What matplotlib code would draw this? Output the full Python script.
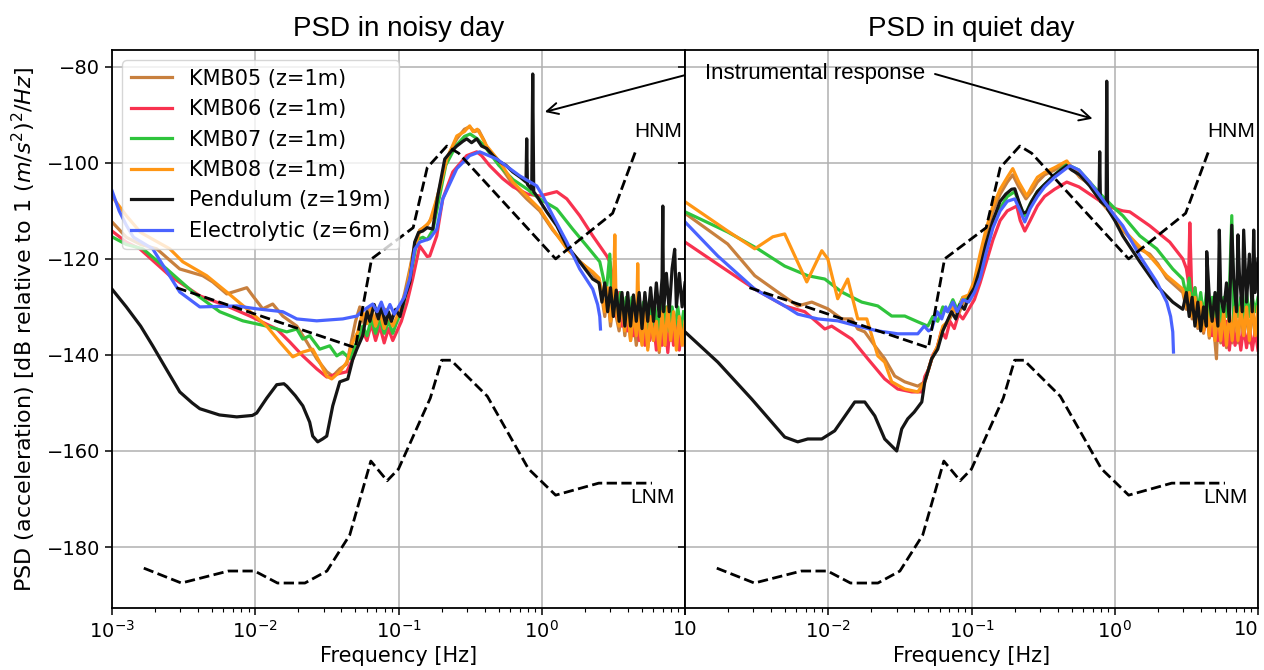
import numpy as np
import matplotlib
matplotlib.use('Agg')
import matplotlib.pyplot as plt

plt.rcParams['font.family'] = ['DejaVu Sans']
plt.rcParams['font.size'] = 14
plt.rcParams['mathtext.fontset'] = 'dejavusans'

# ---- data: (log10 frequency [Hz], PSD [dB]) ----
# noisy day
noisy_kmb05 = [(-3.0, -112.3), (-2.9, -115.5), (-2.8, -117), (-2.688, -117.9), (-2.527, -122.1), (-2.367, -123.5),
               (-2.297, -124.8), (-2.199, -127.3), (-2.059, -126), (-2.017, -127.7), (-1.948, -130.4), (-1.878, -129.4),
               (-1.808, -131.9), (-1.71, -134), (-1.64, -137.3), (-1.571, -140.8), (-1.501, -143.5), (-1.459, -144.4),
               (-1.41, -142.9), (-1.361, -141.9), (-1.34, -138.8), (-1.3, -133), (-1.27, -130), (-1.24, -133.5),
               (-1.21, -130.5), (-1.18, -134), (-1.15, -131), (-1.12, -133.5), (-1.09, -130.5), (-1.06, -133.5),
               (-1.03, -131), (-1.0, -132), (-0.956, -127), (-0.92, -122), (-0.887, -117), (-0.852, -114),
               (-0.8, -113), (-0.76, -111), (-0.712, -105), (-0.663, -99), (-0.593, -95), (-0.54, -93),
               (-0.503, -92.5), (-0.47, -93.5), (-0.44, -93.2), (-0.4, -95.5), (-0.384, -96.8), (-0.293, -100.5),
               (-0.202, -104.5), (-0.105, -107.5), (-0.014, -110), (0.077, -114), (0.175, -117.5), (0.265, -120.5),
               (0.356, -123), (0.4, -125), (0.42, -128), (0.44, -132), (0.46, -127), (0.48, -134), (0.5, -129),
               (0.52, -132), (0.54, -135), (0.56, -130), (0.58, -136), (0.6, -131), (0.62, -137), (0.64, -132),
               (0.66, -138), (0.68, -133), (0.7, -137), (0.72, -132), (0.74, -138.5), (0.76, -133), (0.78, -137),
               (0.8, -134), (0.82, -139.5), (0.84, -132), (0.86, -138), (0.88, -131), (0.9, -137), (0.92, -132),
               (0.94, -138), (0.96, -133), (0.98, -137), (1.0, -134)]
noisy_kmb06 = [(-3.0, -114.2), (-2.9, -116.5), (-2.806, -117.9), (-2.597, -123.5), (-2.387, -127.7), (-2.199, -129.8),
               (-2.038, -131.9), (-1.85, -134.6), (-1.759, -137.3), (-1.668, -140.2), (-1.571, -142.9), (-1.501, -144.6),
               (-1.431, -144), (-1.361, -143.5), (-1.319, -140.8), (-1.28, -137), (-1.25, -135), (-1.22, -137),
               (-1.19, -133.5), (-1.16, -137), (-1.13, -134), (-1.1, -137.5), (-1.07, -134.5), (-1.04, -137),
               (-1.01, -135), (-0.98, -133), (-0.94, -129), (-0.9, -124), (-0.852, -117.3), (-0.8, -119.5),
               (-0.782, -119.4), (-0.733, -115.2), (-0.691, -107.5), (-0.621, -101.9), (-0.524, -98.5),
               (-0.454, -97.7), (-0.42, -98.5), (-0.363, -100.6), (-0.272, -103.3), (-0.2, -105), (-0.1, -106.5),
               (-0.014, -106.9), (0.105, -106), (0.175, -107.5), (0.265, -111), (0.356, -115.2), (0.454, -119.4),
               (0.475, -120.6), (0.49, -123), (0.5, -128), (0.52, -132), (0.54, -127), (0.56, -134), (0.58, -129),
               (0.6, -135), (0.62, -130), (0.64, -136), (0.66, -131), (0.68, -137), (0.7, -132), (0.72, -138),
               (0.74, -132), (0.754, -137), (0.78, -133), (0.8, -139), (0.82, -132), (0.84, -138), (0.86, -133),
               (0.88, -139.5), (0.9, -132), (0.92, -138), (0.94, -133), (0.96, -139), (0.98, -134), (1.0, -138)]
noisy_kmb07 = [(-3.0, -115.4), (-2.9, -117), (-2.785, -117.9), (-2.618, -122.1), (-2.436, -126.9), (-2.248, -131),
               (-2.087, -132.9), (-1.92, -134), (-1.78, -135.2), (-1.71, -134.6), (-1.668, -136.7), (-1.62, -136),
               (-1.55, -138.8), (-1.48, -138.1), (-1.431, -140.2), (-1.389, -139.4), (-1.34, -140.8), (-1.291, -137.3),
               (-1.25, -134), (-1.22, -136), (-1.19, -132.5), (-1.16, -135.5), (-1.13, -132.5), (-1.1, -135.5),
               (-1.07, -133), (-1.04, -135.5), (-1.01, -133), (-0.97, -130), (-0.94, -126), (-0.9, -121),
               (-0.87, -116), (-0.83, -115.5), (-0.8, -116), (-0.76, -114), (-0.72, -108), (-0.67, -100.5),
               (-0.6, -96.5), (-0.54, -94.5), (-0.5, -94), (-0.45, -95), (-0.4, -96.5), (-0.3, -100.5),
               (-0.2, -103.5), (-0.1, -105.5), (-0.014, -107.5), (0.105, -109.6), (0.216, -113.8), (0.314, -117.3),
               (0.405, -120.6), (0.43, -124), (0.45, -127), (0.475, -119), (0.49, -129), (0.51, -126), (0.53, -131),
               (0.55, -127), (0.57, -132), (0.59, -128), (0.61, -133), (0.63, -128), (0.65, -134), (0.67, -129),
               (0.69, -134), (0.71, -129), (0.73, -135), (0.75, -129), (0.77, -134), (0.79, -130), (0.81, -135),
               (0.83, -129), (0.85, -134), (0.87, -130), (0.89, -135), (0.91, -130), (0.93, -134), (0.95, -130),
               (0.97, -135), (0.99, -131)]
noisy_kmb08 = [(-3.0, -107), (-2.9, -111), (-2.8, -114.5), (-2.597, -117.9), (-2.506, -120.6), (-2.339, -123.5),
               (-2.199, -126.9), (-2.059, -130.4), (-1.92, -134), (-1.829, -137.3), (-1.738, -140.4), (-1.668, -139.4),
               (-1.599, -138.8), (-1.55, -141.5), (-1.501, -144.4), (-1.466, -145), (-1.41, -143.5), (-1.361, -141.5),
               (-1.319, -137.3), (-1.284, -135.2), (-1.25, -131), (-1.22, -133.5), (-1.19, -130), (-1.16, -134),
               (-1.13, -131), (-1.1, -134.5), (-1.07, -131.5), (-1.04, -134), (-1.01, -132), (-0.991, -131),
               (-0.942, -126.3), (-0.901, -119.4), (-0.852, -114.2), (-0.782, -112.3), (-0.712, -105.4),
               (-0.663, -99.2), (-0.593, -94.4), (-0.54, -93.5), (-0.52, -92.8), (-0.503, -92.3), (-0.48, -93.5),
               (-0.45, -93), (-0.42, -94.5), (-0.384, -96.5), (-0.293, -99.8), (-0.202, -104), (-0.105, -106.9),
               (-0.014, -109.6), (0.077, -113.8), (0.175, -117.9), (0.265, -120.6), (0.356, -122.7), (0.4, -124),
               (0.42, -127), (0.44, -131), (0.46, -126), (0.48, -133), (0.5, -128), (0.51, -115), (0.52, -131),
               (0.54, -134), (0.56, -129), (0.58, -135), (0.6, -130), (0.62, -137), (0.64, -131), (0.66, -136),
               (0.67, -121), (0.68, -134), (0.7, -138), (0.72, -131), (0.74, -139), (0.76, -132), (0.78, -137),
               (0.8, -133), (0.82, -139), (0.84, -131), (0.86, -138), (0.88, -130), (0.9, -137), (0.92, -131),
               (0.94, -139), (0.96, -132), (0.98, -138), (1.0, -133)]
noisy_pendulum = [(-3.0, -126.3), (-2.9, -130), (-2.8, -134), (-2.716, -138.1), (-2.62, -143), (-2.527, -147.7),
                  (-2.44, -150), (-2.387, -151.2), (-2.25, -152.5), (-2.129, -152.9), (-2.02, -152.6), (-1.99, -152.1),
                  (-1.92, -149), (-1.85, -146.2), (-1.8, -146), (-1.78, -146.5), (-1.72, -148.5), (-1.668, -150.6),
                  (-1.62, -154), (-1.599, -156.9), (-1.564, -158.1), (-1.53, -157.5), (-1.501, -156.9),
                  (-1.459, -150.6), (-1.41, -145.6), (-1.354, -145), (-1.32, -141), (-1.291, -138.8), (-1.25, -136),
                  (-1.22, -131), (-1.2, -133), (-1.17, -129.5), (-1.14, -132.5), (-1.12, -130), (-1.09, -133.5),
                  (-1.07, -131), (-1.05, -133), (-1.02, -130.5), (-0.99, -132), (-0.956, -128), (-0.921, -124.8),
                  (-0.887, -116.5), (-0.86, -114.5), (-0.831, -114.2), (-0.8, -113.5), (-0.761, -113.8),
                  (-0.726, -106.9), (-0.677, -99.2), (-0.63, -97.5), (-0.593, -96.5), (-0.55, -95.5), (-0.524, -95),
                  (-0.49, -95.8), (-0.454, -95), (-0.42, -96.5), (-0.384, -97), (-0.34, -98.5), (-0.293, -99.8),
                  (-0.25, -100.5), (-0.202, -101.9), (-0.15, -103), (-0.11, -104), (-0.105, -95), (-0.1, -104.5),
                  (-0.07, -105.5), (-0.063, -81.5), (-0.056, -106), (-0.035, -106.9), (0.035, -110.2),
                  (0.105, -113.1), (0.175, -117.3), (0.265, -120.6), (0.356, -124.2), (0.4, -125), (0.42, -129),
                  (0.44, -125), (0.46, -131), (0.48, -126), (0.5, -132), (0.52, -126.5), (0.54, -133), (0.56, -127),
                  (0.58, -134), (0.6, -127), (0.62, -134), (0.64, -127.5), (0.66, -133), (0.68, -127), (0.7, -134.5),
                  (0.72, -127), (0.74, -133), (0.76, -126), (0.78, -133), (0.8, -125), (0.82, -132), (0.84, -124),
                  (0.845, -109), (0.85, -131), (0.87, -123), (0.89, -131), (0.91, -122), (0.928, -118),
                  (0.94, -130), (0.96, -123), (0.98, -130), (1.0, -125)]
noisy_electrolytic = [(-3.0, -105.8), (-2.95, -110), (-2.9, -113), (-2.85, -115.5), (-2.716, -117.9),
                      (-2.527, -126.9), (-2.387, -130), (-2.129, -129.8), (-1.99, -130.4), (-1.808, -131),
                      (-1.71, -132.5), (-1.571, -132.9), (-1.389, -132.5), (-1.291, -131.9), (-1.25, -130.8),
                      (-1.18, -129.4), (-1.15, -131), (-1.12, -129), (-1.09, -131.5), (-1.06, -129.5), (-1.03, -131.5),
                      (-1.0, -130), (-0.96, -128), (-0.92, -124), (-0.887, -118), (-0.852, -116.5), (-0.782, -115.8),
                      (-0.733, -113.8), (-0.691, -107.5), (-0.593, -101.2), (-0.503, -98.5), (-0.433, -97.7),
                      (-0.314, -99.2), (-0.154, -102.7), (-0.035, -104.8), (0.007, -106.9), (0.077, -111),
                      (0.175, -116.5), (0.265, -122.1), (0.356, -126.3), (0.39, -129.5), (0.405, -132),
                      (0.41, -134.6)]

# quiet day
quiet_kmb05 = [(-3.0, -110.5), (-2.702, -116.9), (-2.513, -123.5), (-2.353, -126.9), (-2.213, -129.8), (-2.115, -129),
               (-2.003, -130.4), (-1.906, -132.5), (-1.836, -132.5), (-1.794, -134.6), (-1.745, -135.2), (-1.675, -138.1),
               (-1.606, -140.8), (-1.536, -144.4), (-1.466, -145.6), (-1.375, -146.5), (-1.326, -145.6), (-1.28, -141),
               (-1.24, -138.5), (-1.2, -134.5), (-1.16, -133), (-1.12, -130.5), (-1.09, -131.5), (-1.05, -128.5),
               (-1.02, -128), (-0.98, -125), (-0.94, -120), (-0.9, -115), (-0.85, -110), (-0.8, -106.5),
               (-0.75, -104), (-0.712, -102.5), (-0.67, -105), (-0.62, -107.5), (-0.58, -106), (-0.54, -104),
               (-0.49, -102.5), (-0.42, -101.5), (-0.335, -100), (-0.3, -101), (-0.244, -103), (-0.175, -104.5),
               (-0.1, -108), (0.0, -111.5), (0.056, -114), (0.175, -118), (0.244, -119), (0.3, -121), (0.363, -124),
               (0.475, -127), (0.5, -130.5), (0.52, -127.5), (0.54, -132.5), (0.56, -128.5), (0.58, -134.5),
               (0.6, -129.5), (0.62, -135.5), (0.64, -130.5), (0.66, -136.5), (0.68, -130.5), (0.71, -140.8),
               (0.72, -131.5), (0.74, -137.5), (0.76, -131.5), (0.78, -138.5), (0.8, -131.5), (0.82, -137.5),
               (0.84, -130.5), (0.86, -137.5), (0.88, -130.5), (0.9, -136.5), (0.92, -130.5), (0.94, -137.5),
               (0.96, -129.5), (0.98, -136.5), (1.0, -130.5)]
quiet_kmb06 = [(-3.0, -116.5), (-2.723, -122.1), (-2.513, -126.3), (-2.304, -129.8), (-2.164, -131), (-2.024, -134.6),
               (-1.976, -134), (-1.836, -136.7), (-1.724, -140.8), (-1.606, -145), (-1.515, -147.1), (-1.417, -147.7),
               (-1.347, -147.7), (-1.326, -144.5), (-1.3, -143), (-1.27, -140), (-1.24, -138.5), (-1.21, -135),
               (-1.18, -136.5), (-1.15, -133), (-1.12, -134.5), (-1.09, -131.5), (-1.06, -132.5), (-1.02, -130.5),
               (-0.98, -128.5), (-0.94, -125), (-0.9, -121), (-0.85, -116), (-0.8, -112), (-0.75, -110),
               (-0.684, -109), (-0.66, -112), (-0.628, -114.2), (-0.59, -112), (-0.54, -109), (-0.49, -107),
               (-0.42, -105.5), (-0.335, -104), (-0.25, -105), (-0.175, -106.5), (-0.1, -108), (-0.05, -109),
               (0.0, -109.5), (0.056, -110), (0.105, -110.2), (0.244, -113.1), (0.384, -116.5), (0.475, -120),
               (0.5, -122), (0.515, -125), (0.524, -112.5), (0.54, -130), (0.56, -126), (0.58, -133), (0.6, -128),
               (0.62, -135), (0.64, -133), (0.66, -129), (0.68, -136), (0.7, -131), (0.72, -137), (0.74, -132),
               (0.76, -138), (0.78, -133), (0.8, -139), (0.82, -133), (0.84, -138), (0.86, -134), (0.88, -139),
               (0.9, -134), (0.92, -138.5), (0.94, -134), (0.96, -139), (0.98, -135), (1.0, -139)]
quiet_kmb07 = [(-3.0, -110.2), (-2.702, -114.4), (-2.492, -117.9), (-2.304, -121.5), (-2.143, -123.5), (-2.024, -124.2),
               (-1.906, -126.9), (-1.766, -129), (-1.654, -129.8), (-1.557, -131.9), (-1.466, -131.9), (-1.375, -133.1),
               (-1.305, -134), (-1.27, -132), (-1.236, -133), (-1.2, -130), (-1.166, -131), (-1.13, -128.5),
               (-1.1, -130.5), (-1.06, -128), (-1.02, -128.5), (-0.98, -126.5), (-0.94, -123), (-0.9, -118),
               (-0.85, -113), (-0.8, -109.5), (-0.75, -107), (-0.698, -106), (-0.66, -109), (-0.628, -111),
               (-0.59, -108.5), (-0.54, -106), (-0.49, -104.5), (-0.42, -102.5), (-0.335, -100.3), (-0.25, -101.5),
               (-0.175, -104), (-0.1, -106.5), (-0.05, -108), (0.0, -109.5), (0.056, -111), (0.175, -115.2),
               (0.293, -117.9), (0.405, -122.1), (0.475, -124.2), (0.5, -128), (0.52, -124), (0.54, -130),
               (0.56, -126), (0.58, -131), (0.6, -127), (0.62, -132), (0.64, -127), (0.66, -133), (0.68, -128),
               (0.7, -132), (0.72, -127), (0.74, -133), (0.76, -128), (0.78, -132), (0.8, -127), (0.817, -111),
               (0.83, -133), (0.84, -128), (0.86, -132), (0.88, -128), (0.9, -133), (0.92, -127), (0.94, -132),
               (0.96, -128), (0.98, -131), (1.0, -128)]
quiet_kmb08 = [(-3.0, -108.1), (-2.702, -114.2), (-2.513, -117.9), (-2.387, -115.4), (-2.304, -114.8), (-2.15, -124.8),
               (-2.045, -118.3), (-2.003, -120), (-1.934, -128.3), (-1.864, -124.2), (-1.794, -132.5), (-1.731, -132.5),
               (-1.654, -140.2), (-1.606, -141.5), (-1.557, -145.6), (-1.466, -147.1), (-1.375, -147.7),
               (-1.326, -145.6), (-1.278, -140.8), (-1.236, -138.1), (-1.2, -134), (-1.166, -133.1), (-1.13, -130),
               (-1.1, -131.5), (-1.06, -128), (-1.02, -127.5), (-0.98, -124.5), (-0.94, -119), (-0.9, -114),
               (-0.85, -109), (-0.8, -105.5), (-0.75, -103), (-0.712, -101.2), (-0.67, -104), (-0.614, -106.9),
               (-0.58, -105), (-0.54, -103), (-0.49, -102), (-0.42, -101), (-0.335, -99.6), (-0.3, -101),
               (-0.244, -102.5), (-0.175, -104), (-0.1, -107.5), (0.0, -111), (0.056, -113.8), (0.175, -117.5),
               (0.244, -119.4), (0.363, -123.5), (0.475, -126.3), (0.5, -130), (0.52, -127), (0.54, -132),
               (0.56, -128), (0.58, -134), (0.6, -129), (0.62, -135), (0.64, -130), (0.66, -136), (0.68, -130),
               (0.7, -137), (0.72, -131), (0.74, -137), (0.76, -131), (0.78, -138), (0.8, -131), (0.82, -137),
               (0.84, -130), (0.86, -137), (0.88, -130), (0.9, -136), (0.92, -130), (0.94, -137), (0.96, -129),
               (0.98, -136), (1.0, -130)]
quiet_pendulum = [(-3.0, -135.2), (-2.771, -141.5), (-2.534, -149.2), (-2.304, -157.1), (-2.213, -158.1),
                  (-2.143, -157.5), (-2.045, -157.5), (-1.955, -155.8), (-1.815, -149.8), (-1.745, -149.8),
                  (-1.675, -152.7), (-1.606, -157.5), (-1.522, -160), (-1.487, -155.4), (-1.445, -153.3),
                  (-1.4, -151.9), (-1.347, -149.8), (-1.326, -145.6), (-1.278, -140.8), (-1.236, -138.8),
                  (-1.2, -135), (-1.17, -133), (-1.14, -131), (-1.11, -132.5), (-1.08, -129.5), (-1.05, -130.5),
                  (-1.02, -128), (-0.98, -126), (-0.94, -122), (-0.9, -117), (-0.85, -112), (-0.8, -108),
                  (-0.76, -106.5), (-0.72, -105.5), (-0.698, -105.4), (-0.67, -108), (-0.64, -110.5),
                  (-0.614, -110.2), (-0.58, -108), (-0.54, -106), (-0.49, -104.5), (-0.42, -102.5),
                  (-0.335, -100.6), (-0.3, -101.5), (-0.244, -102.5), (-0.175, -104.8), (-0.11, -107.5),
                  (-0.105, -97.7), (-0.1, -108), (-0.06, -109), (-0.056, -83), (-0.05, -109.6), (0.0, -112),
                  (0.056, -115.2), (0.175, -120.6), (0.293, -125.6), (0.405, -129), (0.475, -130.5), (0.5, -127),
                  (0.52, -132), (0.54, -128), (0.56, -134), (0.58, -129), (0.6, -135), (0.62, -130), (0.64, -134),
                  (0.642, -118.5), (0.66, -128), (0.68, -133), (0.7, -127), (0.72, -134), (0.73, -114), (0.74, -128),
                  (0.76, -131), (0.78, -125), (0.8, -133), (0.817, -113), (0.83, -124), (0.85, -131), (0.86, -115),
                  (0.87, -123), (0.89, -131), (0.9, -114), (0.92, -129), (0.94, -119), (0.96, -131),
                  (0.97, -114), (0.98, -127), (1.0, -120)]
quiet_electrolytic = [(-3.0, -112.3), (-2.771, -119.4), (-2.513, -126.3), (-2.304, -129.8), (-2.213, -131.5),
                      (-2.073, -132.5), (-1.934, -132.9), (-1.794, -134), (-1.654, -135), (-1.515, -135.6),
                      (-1.375, -135.6), (-1.33, -134), (-1.3, -135), (-1.278, -134.6), (-1.24, -131), (-1.208, -132.5),
                      (-1.18, -130), (-1.166, -131), (-1.13, -129), (-1.1, -131), (-1.06, -128.5), (-1.02, -129),
                      (-0.98, -127), (-0.94, -124), (-0.9, -119), (-0.85, -113.5), (-0.8, -110), (-0.75, -108),
                      (-0.698, -107.5), (-0.66, -110), (-0.628, -112.3), (-0.59, -109.5), (-0.54, -107),
                      (-0.49, -105), (-0.42, -103), (-0.314, -100.6), (-0.25, -101.5), (-0.175, -104),
                      (-0.1, -107), (-0.05, -109), (0.0, -111), (0.056, -113.1), (0.175, -119.4), (0.293, -124.8),
                      (0.363, -129), (0.39, -132), (0.405, -135.2), (0.41, -139.4)]

# Peterson noise models
hnm_freq = [0.002818, 0.05, 0.0649, 0.1266, 0.1587, 0.2174, 0.2632, 1.25, 3.125, 4.545]
hnm_db = [-126.0, -138.5, -120.0, -113.5, -101.0, -96.5, -98.0, -120.0, -110.5, -97.4]
lnm_freq = [0.001667, 0.003049, 0.006494, 0.009901, 0.01429, 0.02222, 0.03165, 0.04566, 0.0641, 0.08333,
            0.1, 0.1667, 0.2, 0.2326, 0.4167, 0.8065, 1.25, 2.5, 5.882]
lnm_db = [-184.4, -187.5, -185.0, -185.0, -187.5, -187.5, -185.0, -177.5, -162.1, -166.2,
          -163.75, -149.0, -141.1, -141.1, -148.6, -163.7, -169.2, -166.7, -166.7]

labels = ['KMB05 (z=1m)', 'KMB06 (z=1m)', 'KMB07 (z=1m)', 'KMB08 (z=1m)', 'Pendulum (z=19m)', 'Electrolytic (z=6m)']
colors = ['#c8803e', '#f8324f', '#2fc43c', '#ff9614', '#151515', '#4a63ff']

noisy = [noisy_kmb05, noisy_kmb06, noisy_kmb07, noisy_kmb08, noisy_pendulum, noisy_electrolytic]
quiet = [quiet_kmb05, quiet_kmb06, quiet_kmb07, quiet_kmb08, quiet_pendulum, quiet_electrolytic]

arial = ['Liberation Sans', 'DejaVu Sans']

fig = plt.figure(figsize=(12.64, 6.70), dpi=100)
ax1 = fig.add_axes([112 / 1264, 62 / 670, 573 / 1264, 558 / 670])
ax2 = fig.add_axes([685 / 1264, 62 / 670, 573 / 1264, 558 / 670], sharey=ax1)


def draw_panel(ax, series, title):
    for data, lab, col in zip(series, labels, colors):
        arr = np.array(data)
        ax.semilogx(10 ** arr[:, 0], arr[:, 1], color=col, lw=2.3, label=lab)
    ax.semilogx(hnm_freq, hnm_db, 'k--', lw=2.0)
    ax.semilogx(lnm_freq, lnm_db, 'k--', lw=2.0)
    ax.set_xlim(1e-3, 10)
    ax.set_ylim(-192.7, -76.5)
    ax.grid(True, which='major', color='#b0b0b0', lw=1.1)
    ax.set_title(title, fontsize=20, family=arial, pad=10)
    ax.set_xlabel('Frequency [Hz]', fontsize=15, labelpad=3)
    ax.tick_params(which='major', length=5, width=1.1, labelsize=14)
    ax.tick_params(which='minor', length=3, width=0.8)
    for sp in ax.spines.values():
        sp.set_linewidth(1.3)
    ax.text(6.5, -93.5, 'HNM', fontsize=15, family=arial, ha='center', va='center')
    ax.text(5.9, -169.6, 'LNM', fontsize=15, family=arial, ha='center', va='center')


draw_panel(ax1, noisy, 'PSD in noisy day')
draw_panel(ax2, quiet, 'PSD in quiet day')

ax1.set_yticks([-80, -100, -120, -140, -160, -180])
ax1.set_xticks([1e-3, 1e-2, 1e-1, 1, 10])
ax1.set_xticklabels(['$10^{-3}$', '$10^{-2}$', '$10^{-1}$', '$10^{0}$', '10'])
ax2.set_xticks([1e-3, 1e-2, 1e-1, 1, 10])
ax2.set_xticklabels(['', '$10^{-2}$', '$10^{-1}$', '$10^{0}$', '10'])
ax2.get_xticklabels()[-1].set_horizontalalignment('right')
ax2.tick_params(labelleft=False)
ax1.set_ylabel('PSD (acceleration) [dB relative to 1 $(m/s^2)^2/Hz$]', fontsize=16, labelpad=6)

ax1.legend(loc='upper left', fontsize=15, handlelength=2.0)

# instrumental response annotation
fig.text(815 / 1264, 1 - 73 / 670, 'Instrumental response', fontsize=16, family=arial,
         ha='center', va='center')
ax1.annotate('', xy=(1.05, -89.4), xycoords='data', xytext=(697 / 1264, 1 - 72 / 670),
             textcoords='figure fraction', annotation_clip=False,
             arrowprops=dict(arrowstyle='->', color='k', lw=1.4, shrinkA=0, shrinkB=0, mutation_scale=20))
ax2.annotate('', xy=(0.70, -90.8), xycoords='data', xytext=(935 / 1264, 1 - 74 / 670),
             textcoords='figure fraction', annotation_clip=False,
             arrowprops=dict(arrowstyle='->', color='k', lw=1.4, shrinkA=0, shrinkB=0, mutation_scale=20))

fig.savefig('out.png', dpi=100)
